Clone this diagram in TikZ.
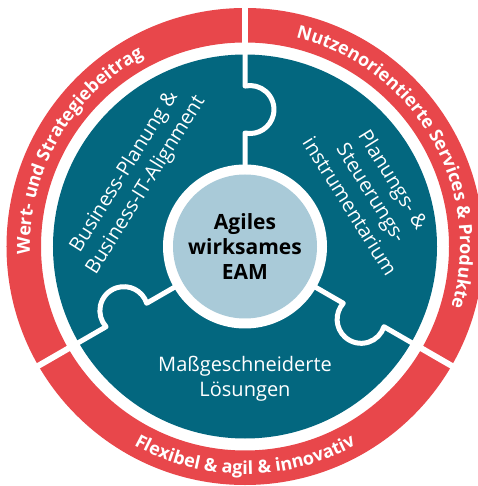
\documentclass[tikz,border=0pt]{standalone}
\usepackage{fontspec}
\setmainfont{Open Sans}
\usepackage{tikz}
\usetikzlibrary{shapes,arrows}
\usetikzlibrary{decorations.text}
\definecolor{eamred}{HTML}{E8474B}
\definecolor{eamteal}{HTML}{03677F}
\definecolor{eamblue}{HTML}{A9CAD8}
\newcommand{\ringfont}{\fontsize{18}{20}\selectfont\bfseries}
\tikzstyle{seam} = [draw=white, line width=5pt, line join=round]
\tikzstyle{ringgap} = [draw=white, line width=6pt]
\tikzstyle{piece} = [text=white, align=center,
    font=\fontsize{20}{25.5}\selectfont]
\tikzstyle{core} = [text=black, align=center,
    font=\fontsize{21}{25}\selectfont\bfseries]
\tikzstyle{ringtext} = [decorate, decoration={text along path,
    text align=center, text color=white}]

\begin{document}
\begin{tikzpicture}[x=1pt, y=1pt]
  \useasboundingbox (-245,-239.5) rectangle (232,246.5);
  \fill [eamred, even odd rule] (0,0) circle (238.5) (0,0) circle (204);
  \draw [ringgap] (90:200) -- (90:245);
  \draw [ringgap] (210:200) -- (210:245);
  \draw [ringgap] (330:200) -- (330:245);
  \fill [eamteal] (0,0) circle (192);
  \fill [white] (0,0) circle (82);
  \fill [eamblue] (0,0) circle (72);
  \begin{scope}[rotate=90]
    \draw [seam] (80,0) -- (113.5,0) arc [start angle=168, end angle=372, radius=24] -- (194,0);
  \end{scope}
  \begin{scope}[rotate=210]
    \draw [seam] (80,0) -- (113.5,0) arc [start angle=168, end angle=372, radius=24] -- (194,0);
  \end{scope}
  \begin{scope}[rotate=330]
    \draw [seam] (80,0) -- (113.5,0) arc [start angle=168, end angle=372, radius=24] -- (194,0);
  \end{scope}
  \path [ringtext, decoration={text={|\ringfont|Wert- und Strategiebeitrag}}]
    (210:215) arc [start angle=210, end angle=90, radius=215];
  \path [ringtext, decoration={text={|\ringfont|Nutzenorientierte Services {\&} Produkte}}]
    (90:215) arc [start angle=90, end angle=-30, radius=215];
  \path [ringtext, decoration={text={|\ringfont|Flexibel {\&} agil {\&} innovativ}}]
    (210:227.5) arc [start angle=210, end angle=330, radius=227.5];
  \node [core] (eam) at (0,0) {Agiles\\wirksames\\EAM};
  \node [piece, below of=eam, node distance=132pt] (loesung) {Maßgeschneiderte\\Lösungen};
  \node [piece, rotate=58] (business) at (148.3:129) {Business-Planung \&\\Business-IT-Alignment};
  \node [piece, rotate=-58] (planung) at (23:138) {Planungs- \&\\Steuerungs-\\instrumentarium};
\end{tikzpicture}
\end{document}
